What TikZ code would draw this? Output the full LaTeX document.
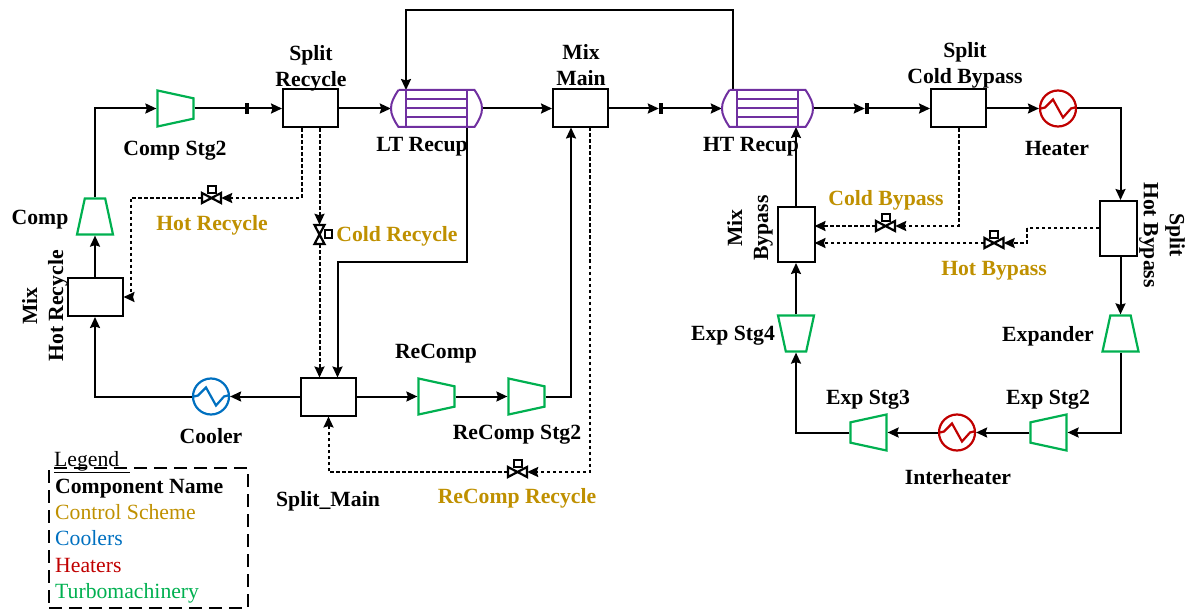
\documentclass[tikz,border=0pt]{standalone}
\usepackage{fontspec}
\setmainfont{Liberation Serif}
\usetikzlibrary{shapes}
\usetikzlibrary{arrows.meta}
\definecolor{schemegold}{HTML}{BF9000}
\definecolor{coolerblue}{HTML}{0070C0}
\definecolor{heaterred}{HTML}{C00000}
\definecolor{turbogreen}{HTML}{00B050}
\definecolor{recuppurple}{HTML}{7030A0}
\tikzset{
  flow/.style={line width=2pt,->,>={Stealth[length=11pt,width=10pt,inset=1.5pt]}},
  ctrl/.style={flow,dash pattern=on 3.5pt off 2.5pt},
  plainflow/.style={line width=2pt},
  plainctrl/.style={line width=2pt,dash pattern=on 3.5pt off 2.5pt},
  lbl/.style={font=\fontsize{21.7}{26}\selectfont\bfseries,align=center,inner sep=0pt},
  goldlbl/.style={lbl,text=schemegold},
  legendlbl/.style={font=\fontsize{21.7}{26}\selectfont,anchor=base west,inner sep=0pt},
  mixbox/.style={draw,line width=2pt,inner sep=0pt,minimum width=55pt,minimum height=38pt},
  mixboxv/.style={draw,line width=2pt,inner sep=0pt,minimum width=37pt,minimum height=55pt},
  turbo/.style={trapezium,draw=turbogreen,line width=2.2pt,inner sep=1pt,
    trapezium stretches=true,minimum width=36pt,minimum height=36pt,
    trapezium left angle=69,trapezium right angle=69},
  hx/.style={circle,line width=2.2pt,inner sep=0pt,minimum size=36pt},
  recup/.style={inner sep=0pt,minimum width=91pt,minimum height=37pt},
  tickmark/.style={fill=black,inner sep=0pt,minimum width=4pt,minimum height=11pt},
  valvebody/.style={inner sep=0pt,minimum width=19pt,minimum height=10pt},
  zigzag/.pic={\draw[line width=2.2pt,pic actions]
    (-17,0)--(-13,-1)--(-5,-9)--(5,9)--(13,0)--(17,-1);},
  valve/.pic={\draw[line width=2.2pt]
    (-9.5,-5)--(9.5,5)--(9.5,-5)--(-9.5,5)--cycle;
    \draw[line width=2pt] (-4,-12) rectangle (4,-5);},
  recupcore/.pic={\draw[recuppurple,line width=2pt]
    (-38,-18.5)--(38,-18.5) .. controls (43,-11) and (45.5,-6) .. (45.5,0)
    .. controls (45.5,6) and (43,11) .. (38,18.5)--(-38,18.5)
    .. controls (-43,11) and (-45.5,6) .. (-45.5,0)
    .. controls (-45.5,-6) and (-43,-11) .. (-38,-18.5);
    \draw[recuppurple,line width=2pt] (-30.5,-18.5)--(-30.5,18.5);
    \draw[recuppurple,line width=2pt] (30.5,-18.5)--(30.5,18.5);
    \draw[recuppurple,line width=2pt] (-30.5,-9)--(30.5,-9);
    \draw[recuppurple,line width=2pt] (-30.5,0)--(30.5,0);
    \draw[recuppurple,line width=2pt] (-30.5,9)--(30.5,9);}
}
\begin{document}
\begin{tikzpicture}[x=1pt,y=-1pt]
           \useasboundingbox (0,0) rectangle (1193,612);

           % Splitters and mixers
           \node[mixbox] (splitrecycle) at (310.5,108.5) {};
           \node[mixbox] (mixmain) at (580.5,108.5) {};
           \node[mixbox] (splitcold) at (958.5,108.5) {};
           \node[mixbox] (mixhot) at (95,297) {};
           \node[mixbox] (splitmain) at (328.5,396.5) {};
           \node[mixboxv] (mixbypass) at (796,234.5) {};
           \node[mixboxv] (splithot) at (1118.5,228.5) {};

           % Recuperators
           \node[recup] (ltrecup) at (436.5,108.5) {};
           \node[recup] (htrecup) at (767.5,108.5) {};

           % Compressors
           \node[turbo,shape border rotate=0] (comp) at (95,216.5) {};
           \node[turbo,shape border rotate=270] (compstg2) at (175.5,108.5) {};
           \node[turbo,shape border rotate=270] (recomp) at (436.5,396.5) {};
           \node[turbo,shape border rotate=270] (recompstg2) at (526.5,396.5) {};

           % Expanders
           \node[turbo,shape border rotate=0] (expander) at (1120.5,333.5) {};
           \node[turbo,shape border rotate=90] (expstg2) at (1048.5,432.5) {};
           \node[turbo,shape border rotate=90] (expstg3) at (868.5,432.5) {};
           \node[turbo,shape border rotate=180] (expstg4) at (796,333.5) {};

           % Heat exchangers
           \node[hx,draw=heaterred] (heater) at (1058,108.5) {};
           \node[hx,draw=heaterred] (interheater) at (957,432.5) {};
           \node[hx,draw=coolerblue] (cooler) at (211,396.5) {};

           % Valves and break marks
           \node[valvebody] (valvehotrec) at (211.5,198) {};
           \node[valvebody,minimum width=10pt,minimum height=19pt] (valvecoldrec) at (319.5,234.5) {};
           \node[valvebody] (valverecomp) at (517.5,472) {};
           \node[valvebody] (valvecoldby) at (885.5,226) {};
           \node[valvebody] (valvehotby) at (994,243) {};
           \node[tickmark] (breakcomp) at (247,108.5) {};
           \node[tickmark] (breakmix) at (661,108.5) {};
           \node[tickmark] (breakht) at (867,108.5) {};

           % Free ends of the connectors
           \coordinate (compbend) at (95,108.5);
           \coordinate (srhot) at ([xshift=-9]splitrecycle.south);
           \coordinate (srcold) at ([xshift=9]splitrecycle.south);
           \coordinate (hrbend) at (130.5,198);
           \coordinate (ltdown) at (467,127);
           \coordinate (ltbend) at (467,262);
           \coordinate (ltin) at (337.5,377.5);
           \coordinate (ltreturn) at (406,90);
           \coordinate (httop) at (733,90);
           \coordinate (htleft) at (733,10);
           \coordinate (htright) at (406,10);
           \coordinate (coldin) at (319.5,377.5);
           \coordinate (mmhot) at (589.5,127.5);
           \coordinate (mmbend) at (589.5,472);
           \coordinate (mmin) at (571,127.5);
           \coordinate (rcbend) at (571,396.5);
           \coordinate (rrbend) at (328.5,472);
           \coordinate (scbend) at (958.5,226);
           \coordinate (htin) at (796,127);
           \coordinate (shbend) at (1027,228.5);
           \coordinate (mbcold) at (814.5,226);
           \coordinate (mbhot) at (814.5,243);
           \coordinate (coolbend) at (95,396.5);
           \coordinate (heatbend) at (1120.5,108.5);
           \coordinate (expbend) at (1120.5,432.5);
           \coordinate (ex3bend) at (796,432.5);

           % Main loop, compressor side
           \draw[flow] (mixhot.north) -- (comp.south);
           \draw[flow] (comp.north) -- (compbend) -- (compstg2.west);
           \draw[plainflow] (compstg2.east) -- (breakcomp);
           \draw[flow] (breakcomp) -- (splitrecycle.west);
           \draw[flow] (splitrecycle.east) -- (ltrecup.west);
           \draw[flow] (ltrecup.east) -- (mixmain.west);
           \draw[flow] (mixmain.east) -- (breakmix.west);
           \draw[flow] (breakmix) -- (htrecup.west);
           \draw[flow] (htrecup.east) -- (breakht.west);
           \draw[flow] (breakht) -- (splitcold.west);
           \draw[flow] (splitcold.east) -- (heater.west);

           % Main loop, expander side
           \draw[flow] (heater.east) -- (heatbend) -- (splithot.north -| heatbend);
           \draw[flow] (splithot.south -| expander) -- (expander.north);
           \draw[flow] (expander.south) -- (expbend) -- (expstg2.east);
           \draw[flow] (expstg2.west) -- (interheater.east);
           \draw[flow] (interheater.west) -- (expstg3.east);
           \draw[flow] (expstg3.west) -- (ex3bend) -- (expstg4.south);
           \draw[flow] (expstg4.north) -- (mixbypass.south);
           \draw[flow] (mixbypass.north) -- (htin);

           % Recuperator crossings
           \draw[flow] (httop) -- (htleft) -- (htright) -- (ltreturn);
           \draw[flow] (ltdown) -- (ltbend) -| (ltin);

           % Recompression branch and cooler
           \draw[flow] (splitmain.west) -- (cooler.east);
           \draw[flow] (cooler.west) -- (coolbend) -- (mixhot.south);
           \draw[flow] (splitmain.east) -- (recomp.west);
           \draw[flow] (recomp.east) -- (recompstg2.west);
           \draw[flow] (recompstg2.east) -- (rcbend) -- (mmin);

           % Control lines
           \draw[ctrl] (srhot) |- (valvehotrec.east);
           \draw[ctrl] (valvehotrec.west) -- (hrbend) |- (mixhot.east);
           \draw[ctrl] (srcold) -- (valvecoldrec.north);
           \draw[ctrl] (valvecoldrec.south) -- (coldin);
           \draw[ctrl] (mmhot) -- (mmbend) -- (valverecomp.east);
           \draw[ctrl] (valverecomp.west) -- (rrbend) -- (splitmain.south);
           \draw[ctrl] (splitcold.south) -- (scbend) -- (valvecoldby.east);
           \draw[ctrl] (valvecoldby.west) -- (mbcold);
           \draw[plainctrl] (splithot.west) -- (shbend);
           \draw[ctrl] (shbend) |- (valvehotby.east);
           \draw[ctrl] (valvehotby.west) -- (mbhot);

           % Symbols on top of the lines
           \pic at (ltrecup) {recupcore};
           \pic at (htrecup) {recupcore};
           \pic[heaterred] at (heater) {zigzag};
           \pic[heaterred] at (interheater) {zigzag};
           \pic[coolerblue] at (cooler) {zigzag};
           \pic at (valvehotrec) {valve};
           \pic[rotate=-90] at (valvecoldrec) {valve};
           \pic at (valverecomp) {valve};
           \pic at (valvecoldby) {valve};
           \pic at (valvehotby) {valve};

           % Component names
           \node[lbl] (lblsplitrec) at (311,68) {Split\\Recycle};
           \node[lbl] (lblcompstg2) at (175,151) {Comp Stg2};
           \node[lbl] (lblcomp) at (40,220) {Comp};
           \node[lbl,rotate=90] (lblmixhot) at (45,306) {Mix\\Hot Recycle};
           \node[lbl] (lbllt) at (422,147) {LT Recup};
           \node[lbl] (lblht) at (751,147) {HT Recup};
           \node[lbl] (lblmixmain) at (581,65) {Mix\\Main};
           \node[lbl] (lblsplitcold) at (965,65) {Split\\Cold Bypass};
           \node[lbl] (lblheater) at (1057,149) {Heater};
           \node[lbl,rotate=-90] (lblsplithot) at (1162,235) {Split\\Hot Bypass};
           \node[lbl,rotate=90] (lblmixby) at (750,228) {Mix\\Bypass};
           \node[lbl] (lblrecomp) at (436,354) {ReComp};
           \node[lbl] (lblrecomp2) at (517,435) {ReComp Stg2};
           \node[lbl] (lblcooler) at (211,436) {Cooler};
           \node[lbl] (lblsplitmain) at (328,501) {Split\_Main};
           \node[lbl] (lblexp4) at (733,336) {Exp Stg4};
           \node[lbl] (lblexpander) at (1048,336) {Expander};
           \node[lbl] (lblexp3) at (868,400) {Exp Stg3};
           \node[lbl] (lblexp2) at (1048,400) {Exp Stg2};
           \node[lbl] (lblinter) at (958,477) {Interheater};

           % Control scheme names
           \node[goldlbl] (lblhotrec) at (212,225) {Hot Recycle};
           \node[goldlbl] (lblcoldrec) at (397,236) {Cold Recycle};
           \node[goldlbl] (lblcoldby) at (886,200) {Cold Bypass};
           \node[goldlbl] (lblhotby) at (994,271) {Hot Bypass};
           \node[goldlbl] (lblrerec) at (517,498) {ReComp Recycle};

           % Legend
           \node[draw,line width=2.2pt,dash pattern=on 13pt off 7pt,inner sep=0pt,
             minimum width=199pt,minimum height=140pt] (legendbox) at (148.5,538) {};
           \node[legendlbl] (legendtitle) at (54,466) {\underline{Legend\ \ }};
           \node[legendlbl,font=\fontsize{21.7}{26}\selectfont\bfseries] (legendname) at (55,493) {Component Name};
           \node[legendlbl,text=schemegold] (legendscheme) at (55,519) {Control Scheme};
           \node[legendlbl,text=coolerblue] (legendcool) at (55,545) {Coolers};
           \node[legendlbl,text=heaterred] (legendheat) at (55,572) {Heaters};
           \node[legendlbl,text=turbogreen] (legendturbo) at (55,598) {Turbomachinery};

          \end{tikzpicture}
\end{document}
